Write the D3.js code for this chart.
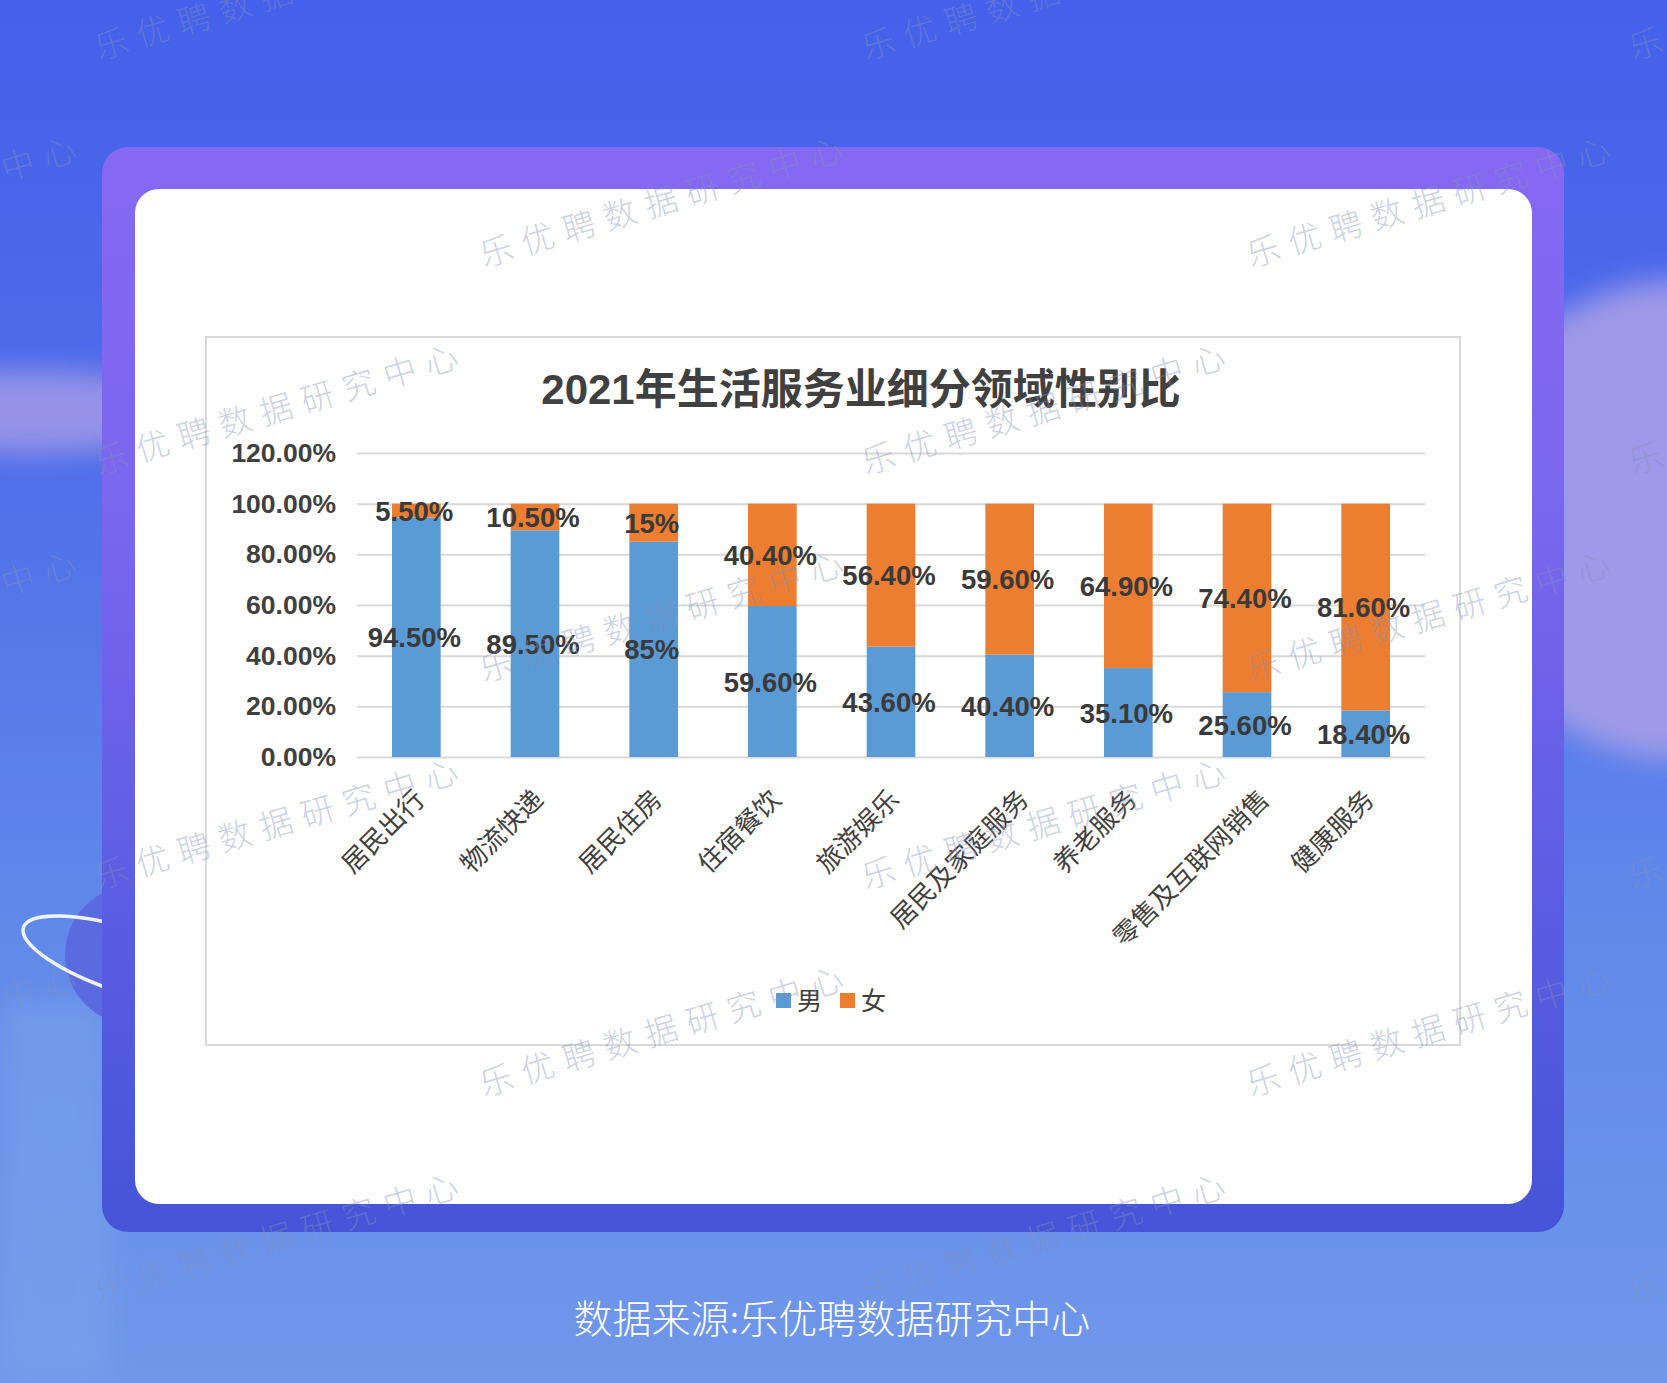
<!DOCTYPE html>
<html>
<head>
<meta charset="utf-8">
<script src="https://cdn.jsdelivr.net/npm/d3@7"></script>
<style>
  html, body { margin: 0; padding: 0; background: #4f6fe9; }
  svg { display: block; }
</style>
</head>
<body>
<svg id="chart" width="1667" height="1383"></svg>
<script>
const categories = ["居民出行","物流快递","居民住房","住宿餐饮","旅游娱乐","居民及家庭服务","养老服务","零售及互联网销售","健康服务"];
const seriesNames = ["男","女"];
const maleValues = [94.5, 89.5, 85, 59.6, 43.6, 40.4, 35.1, 25.6, 18.4];
const femaleValues = [5.5, 10.5, 15, 40.4, 56.4, 59.6, 64.9, 74.4, 81.6];
const maleLabels = ["94.50%","89.50%","85%","59.60%","43.60%","40.40%","35.10%","25.60%","18.40%"];
const femaleLabels = ["5.50%","10.50%","15%","40.40%","56.40%","59.60%","64.90%","74.40%","81.60%"];
const yTicks = [0, 20, 40, 60, 80, 100, 120];
const yTickLabels = ["0.00%","20.00%","40.00%","60.00%","80.00%","100.00%","120.00%"];
const title = "2021年生活服务业细分领域性别比";
const source = "数据来源:乐优聘数据研究中心";
const watermark = "乐优聘数据研究中心";

const colors = { "男": "#5b9bd5", "女": "#ed7d31" };
const W = 1667, H = 1383;
const svg = d3.select("#chart");
const defs = svg.append("defs");

// background gradient
const bg = defs.append("linearGradient").attr("id","bg").attr("x1",0).attr("y1",0).attr("x2",0).attr("y2",1);
[[0,"#4560ea"],[0.3,"#4d6ce9"],[0.65,"#6088ea"],[1,"#6f98ea"]].forEach(s=>bg.append("stop").attr("offset",s[0]).attr("stop-color",s[1]));
const card = defs.append("linearGradient").attr("id","card").attr("x1",0).attr("y1",0).attr("x2",0).attr("y2",1);
[[0,"#8669f2"],[0.35,"#7a66ee"],[0.7,"#5b5de2"],[1,"#4654d8"]].forEach(s=>card.append("stop").attr("offset",s[0]).attr("stop-color",s[1]));
const blur = defs.append("filter").attr("id","blur").attr("x","-50%").attr("y","-50%").attr("width","200%").attr("height","200%");
blur.append("feGaussianBlur").attr("stdDeviation",14);

svg.append("rect").attr("width",W).attr("height",H).attr("fill","url(#bg)");
// decorative clouds
svg.append("ellipse").attr("cx",1680).attr("cy",520).attr("rx",230).attr("ry",240).attr("fill","#a29ce8").attr("filter","url(#blur)").attr("opacity",0.95);
svg.append("ellipse").attr("cx",30).attr("cy",412).attr("rx",160).attr("ry",42).attr("fill","#9d97e8").attr("filter","url(#blur)").attr("opacity",0.9);
svg.append("rect").attr("x",0).attr("y",1000).attr("width",110).attr("height",380).attr("fill","#79a3ec").attr("filter","url(#blur)").attr("opacity",0.6);
// planet
svg.append("circle").attr("cx",135).attr("cy",955).attr("r",70).attr("fill","#5a6be0");
svg.append("ellipse").attr("cx",130).attr("cy",962).attr("rx",112).attr("ry",32)
  .attr("transform","rotate(18,130,962)").attr("fill","none").attr("stroke","#ffffff").attr("stroke-width",3.5).attr("opacity",0.9);

// cards
svg.append("rect").attr("x",102).attr("y",147).attr("width",1462).attr("height",1085).attr("rx",26).attr("fill","url(#card)");
svg.append("rect").attr("x",135).attr("y",189).attr("width",1397).attr("height",1015).attr("rx",24).attr("fill","#ffffff");

// chart frame
svg.append("rect").attr("x",206).attr("y",337).attr("width",1254).attr("height",708)
  .attr("fill","#ffffff").attr("stroke","#d9d9d9").attr("stroke-width",2);

// title
svg.append("text").attr("x",861).attr("y",404).attr("text-anchor","middle")
  .attr("font-family","'Liberation Sans','Noto Sans CJK SC',sans-serif").attr("font-weight","bold")
  .attr("font-size",42).attr("fill","#404040").text(title);

// scales
const x = d3.scaleBand().domain(categories).range([357, 1425]).paddingInner(0.59).paddingOuter(0.295);
const y = d3.scaleLinear().domain([0, 120]).range([757, 453]);

// gridlines via axis
const gAxis = svg.append("g").attr("transform","translate(357,0)")
  .call(d3.axisLeft(y).tickValues(yTicks).tickSize(-(1425-357)).tickFormat((d,i)=>yTickLabels[i]));
gAxis.select(".domain").remove();
gAxis.selectAll(".tick line").attr("stroke","#d9d9d9").attr("stroke-width",2);
gAxis.selectAll(".tick text").attr("x",-21).attr("font-family","'Liberation Sans',Arial,sans-serif")
  .attr("font-weight","bold").attr("font-size",26.5).attr("fill","#404040");

// stacked data
const rows = categories.map((c,i)=>({cat:c, "男":maleValues[i], "女":femaleValues[i], mLab:maleLabels[i], fLab:femaleLabels[i]}));
const stack = d3.stack().keys(seriesNames)(rows);
const gBars = svg.append("g");
stack.forEach(layer=>{
  gBars.selectAll(null).data(layer).enter().append("rect")
    .attr("x", d=>x(d.data.cat)).attr("width", x.bandwidth())
    .attr("y", d=>y(d[1])).attr("height", d=>y(d[0])-y(d[1]))
    .attr("fill", colors[layer.key]);
});
// data labels
stack.forEach(layer=>{
  svg.append("g").selectAll("text").data(layer).enter().append("text")
    .attr("x", d=>x(d.data.cat)+x.bandwidth()/2-2)
    .attr("y", d=>y((d[0]+d[1])/2)+10)
    .attr("text-anchor","middle")
    .attr("font-family","'Liberation Sans',Arial,sans-serif").attr("font-weight","bold")
    .attr("font-size",27.5).attr("fill","#3a3a3a")
    .text(d=> layer.key==="男" ? d.data.mLab : d.data.fLab);
});

// x labels
const gx = svg.append("g").attr("transform","translate(0,757)")
  .call(d3.axisBottom(x).tickSize(0).tickPadding(0));
gx.select(".domain").remove();
gx.selectAll(".tick text")
  .attr("text-anchor","end")
  .attr("font-family","'Noto Sans CJK SC',sans-serif")
  .attr("font-size",26).attr("fill","#404040")
  .attr("dy",null).attr("y",null)
  .attr("transform",d=>`translate(${10 + Math.max(0,d.length-4)*3.5},${44}) rotate(-45)`);

// legend
const leg = svg.append("g").attr("transform","translate(776,1001)");
seriesNames.forEach((s,i)=>{
  const gx0 = i*64;
  leg.append("rect").attr("x",gx0).attr("y",-8).attr("width",15).attr("height",15).attr("fill",colors[s]);
  leg.append("text").attr("x",gx0+21).attr("y",9).attr("font-family","'Noto Sans CJK SC',sans-serif")
    .attr("font-size",25).attr("fill","#404040").text(s);
});

// source
svg.append("text").attr("x",832).attr("y",1333).attr("text-anchor","middle")
  .attr("font-family","'Noto Sans CJK SC',sans-serif").attr("font-weight",300)
  .attr("font-size",39).attr("fill","#ffffff").text(source);

// watermarks
const wm = svg.append("g").attr("pointer-events","none");
const rowsY = d3.range(7).map(k=>48 + 207.3*k);
rowsY.forEach((yy,k)=>{
  const xs = k%2===0 ? [115, 882, 1649] : [-267, 500, 1267];
  xs.forEach(xx=>{
    wm.append("text").attr("transform",`translate(${xx-16},${yy+12}) rotate(-16.6)`)
      .attr("font-family","'Noto Sans CJK SC',sans-serif").attr("font-weight",300)
      .attr("font-size",33).attr("letter-spacing",10)
      .attr("fill","rgb(130,145,190)").attr("fill-opacity",0.42).text(watermark);
  });
});
</script>
</body>
</html>
